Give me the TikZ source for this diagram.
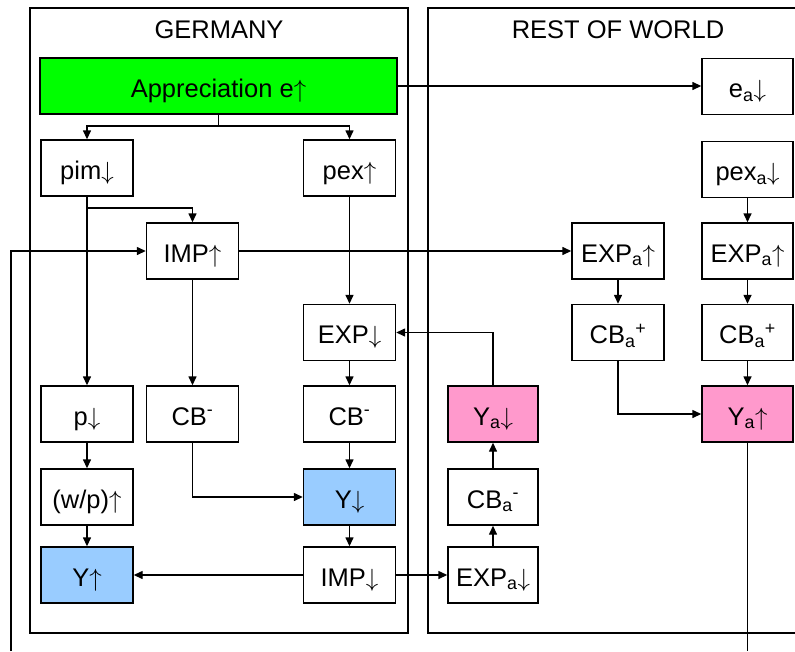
\documentclass[tikz,border=0pt]{standalone}
\usepackage{fontspec}
\setmainfont{Liberation Sans}
\usetikzlibrary{arrows.meta}
\definecolor{gbox}{HTML}{00FF00}
\definecolor{bbox}{HTML}{99CCFF}
\definecolor{pbox}{HTML}{FF99CC}
\tikzset{
  box/.style={draw, line width=1.4pt, minimum width=92pt, minimum height=56pt, inner sep=0pt, text height=23pt, text depth=1pt, font=\fontsize{25.5}{29}\selectfont},
  arr/.style={line width=1.4pt, -{Triangle[length=9pt,width=8pt]}},
  ln/.style={line width=1.4pt},
  frame/.style={line width=1.4pt},
  title/.style={font=\fontsize{25.5}{29}\selectfont}
}
\newcommand{\sub}[1]{\textsubscript{#1}}
\newcommand{\supr}[1]{\textsuperscript{#1}}
\newcommand{\ua}{\ensuremath{\uparrow}}
\newcommand{\da}{\ensuremath{\downarrow}}
\begin{document}
\begin{tikzpicture}[x=1pt,y=-1pt]
\useasboundingbox (0,0) rectangle (795,651);
% frames
\draw[frame] (30,8) rectangle (408,633);
\draw[frame] (795,8) -- (428,8) -- (428,633) -- (795,633);
\node[title] (tg) at (219,30) {GERMANY};
\node[title] (tr) at (618,30) {REST OF WORLD};
% nodes
\node[box, fill=gbox, minimum width=357pt] (green) at (218.5,86) {Appreciation e\ua};
\node[box, minimum width=91pt] (ea) at (747.5,86.5) {e\sub{a}\da};
\node[box] (pim) at (87,168) {pim\da};
\node[box] (pex) at (349.5,168) {pex\ua};
\node[box, minimum width=91pt] (pexa) at (747.5,169.5) {pex\sub{a}\da};
\node[box] (IMPu) at (192.5,251) {IMP\ua};
\node[box] (EXPa1) at (618,251) {EXP\sub{a}\ua};
\node[box, minimum width=91pt] (EXPa2) at (747.5,251) {EXP\sub{a}\ua};
\node[box] (EXPd) at (349.5,332.5) {EXP\da};
\node[box] (CBa1) at (618,332.5) {CB\sub{a}\supr{+}};
\node[box, minimum width=91pt] (CBa2) at (747.5,332.5) {CB\sub{a}\supr{+}};
\node[box] (pd) at (87,414) {p\da};
\node[box] (CB1) at (192.5,414) {CB\supr{-}};
\node[box] (CB2) at (349.5,414) {CB\supr{-}};
\node[box, fill=pbox, minimum width=90pt] (Yad) at (493,414) {Y\sub{a}\da};
\node[box, fill=pbox, minimum width=91pt] (Yau) at (747.5,414) {Y\sub{a}\ua};
\node[box] (wp) at (87,497) {(w/p)\ua};
\node[box, fill=bbox] (Yd) at (349.5,497) {Y\da};
\node[box, minimum width=90pt] (CBam) at (493,497) {CB\sub{a}\supr{-}};
\node[box, fill=bbox] (Yu) at (87,575) {Y\ua};
\node[box] (IMPd) at (349.5,575) {IMP\da};
\node[box, minimum width=90pt] (EXPad) at (493,575) {EXP\sub{a}\da};
% coordinates
\coordinate (br) at (218.5,126);
\coordinate (b2) at (87,208);
\coordinate (fb) at (11,651);
\coordinate (ye) at (747.5,651);
% connectors
\draw[arr] (green.east) -- (green.east -| ea.west);
\draw[ln] (green.south) -- (br);
\draw[arr] (br) -| (pim.north);
\draw[arr] (br) -| (pex.north);
\draw[arr] (pim.south) -- (pd.north);
\draw[arr] (b2) -| (IMPu.north);
\draw[arr] (fb) |- (IMPu.west);
\draw[arr] (IMPu.east) -- (EXPa1.west);
\draw[arr] (pex.south) -- (EXPd.north);
\draw[arr] (EXPd.south) -- (CB2.north);
\draw[arr] (IMPu.south) -- (CB1.north);
\draw[arr] (Yad.north) |- (EXPd.east);
\draw[arr] (pexa.south) -- (EXPa2.north);
\draw[arr] (EXPa2.south) -- (CBa2.north);
\draw[arr] (CBa2.south) -- (Yau.north);
\draw[arr] (EXPa1.south) -- (CBa1.north);
\draw[arr] (CBa1.south) |- (Yau.west);
\draw[ln] (Yau.south) -- (ye);
\draw[arr] (pd.south) -- (wp.north);
\draw[arr] (wp.south) -- (Yu.north);
\draw[arr] (CB1.south) |- (Yd.west);
\draw[arr] (CB2.south) -- (Yd.north);
\draw[arr] (Yd.south) -- (IMPd.north);
\draw[arr] (IMPd.west) -- (Yu.east);
\draw[arr] (IMPd.east) -- (EXPad.west);
\draw[arr] (EXPad.north) -- (CBam.south);
\draw[arr] (CBam.north) -- (Yad.south);
\end{tikzpicture}
\end{document}
